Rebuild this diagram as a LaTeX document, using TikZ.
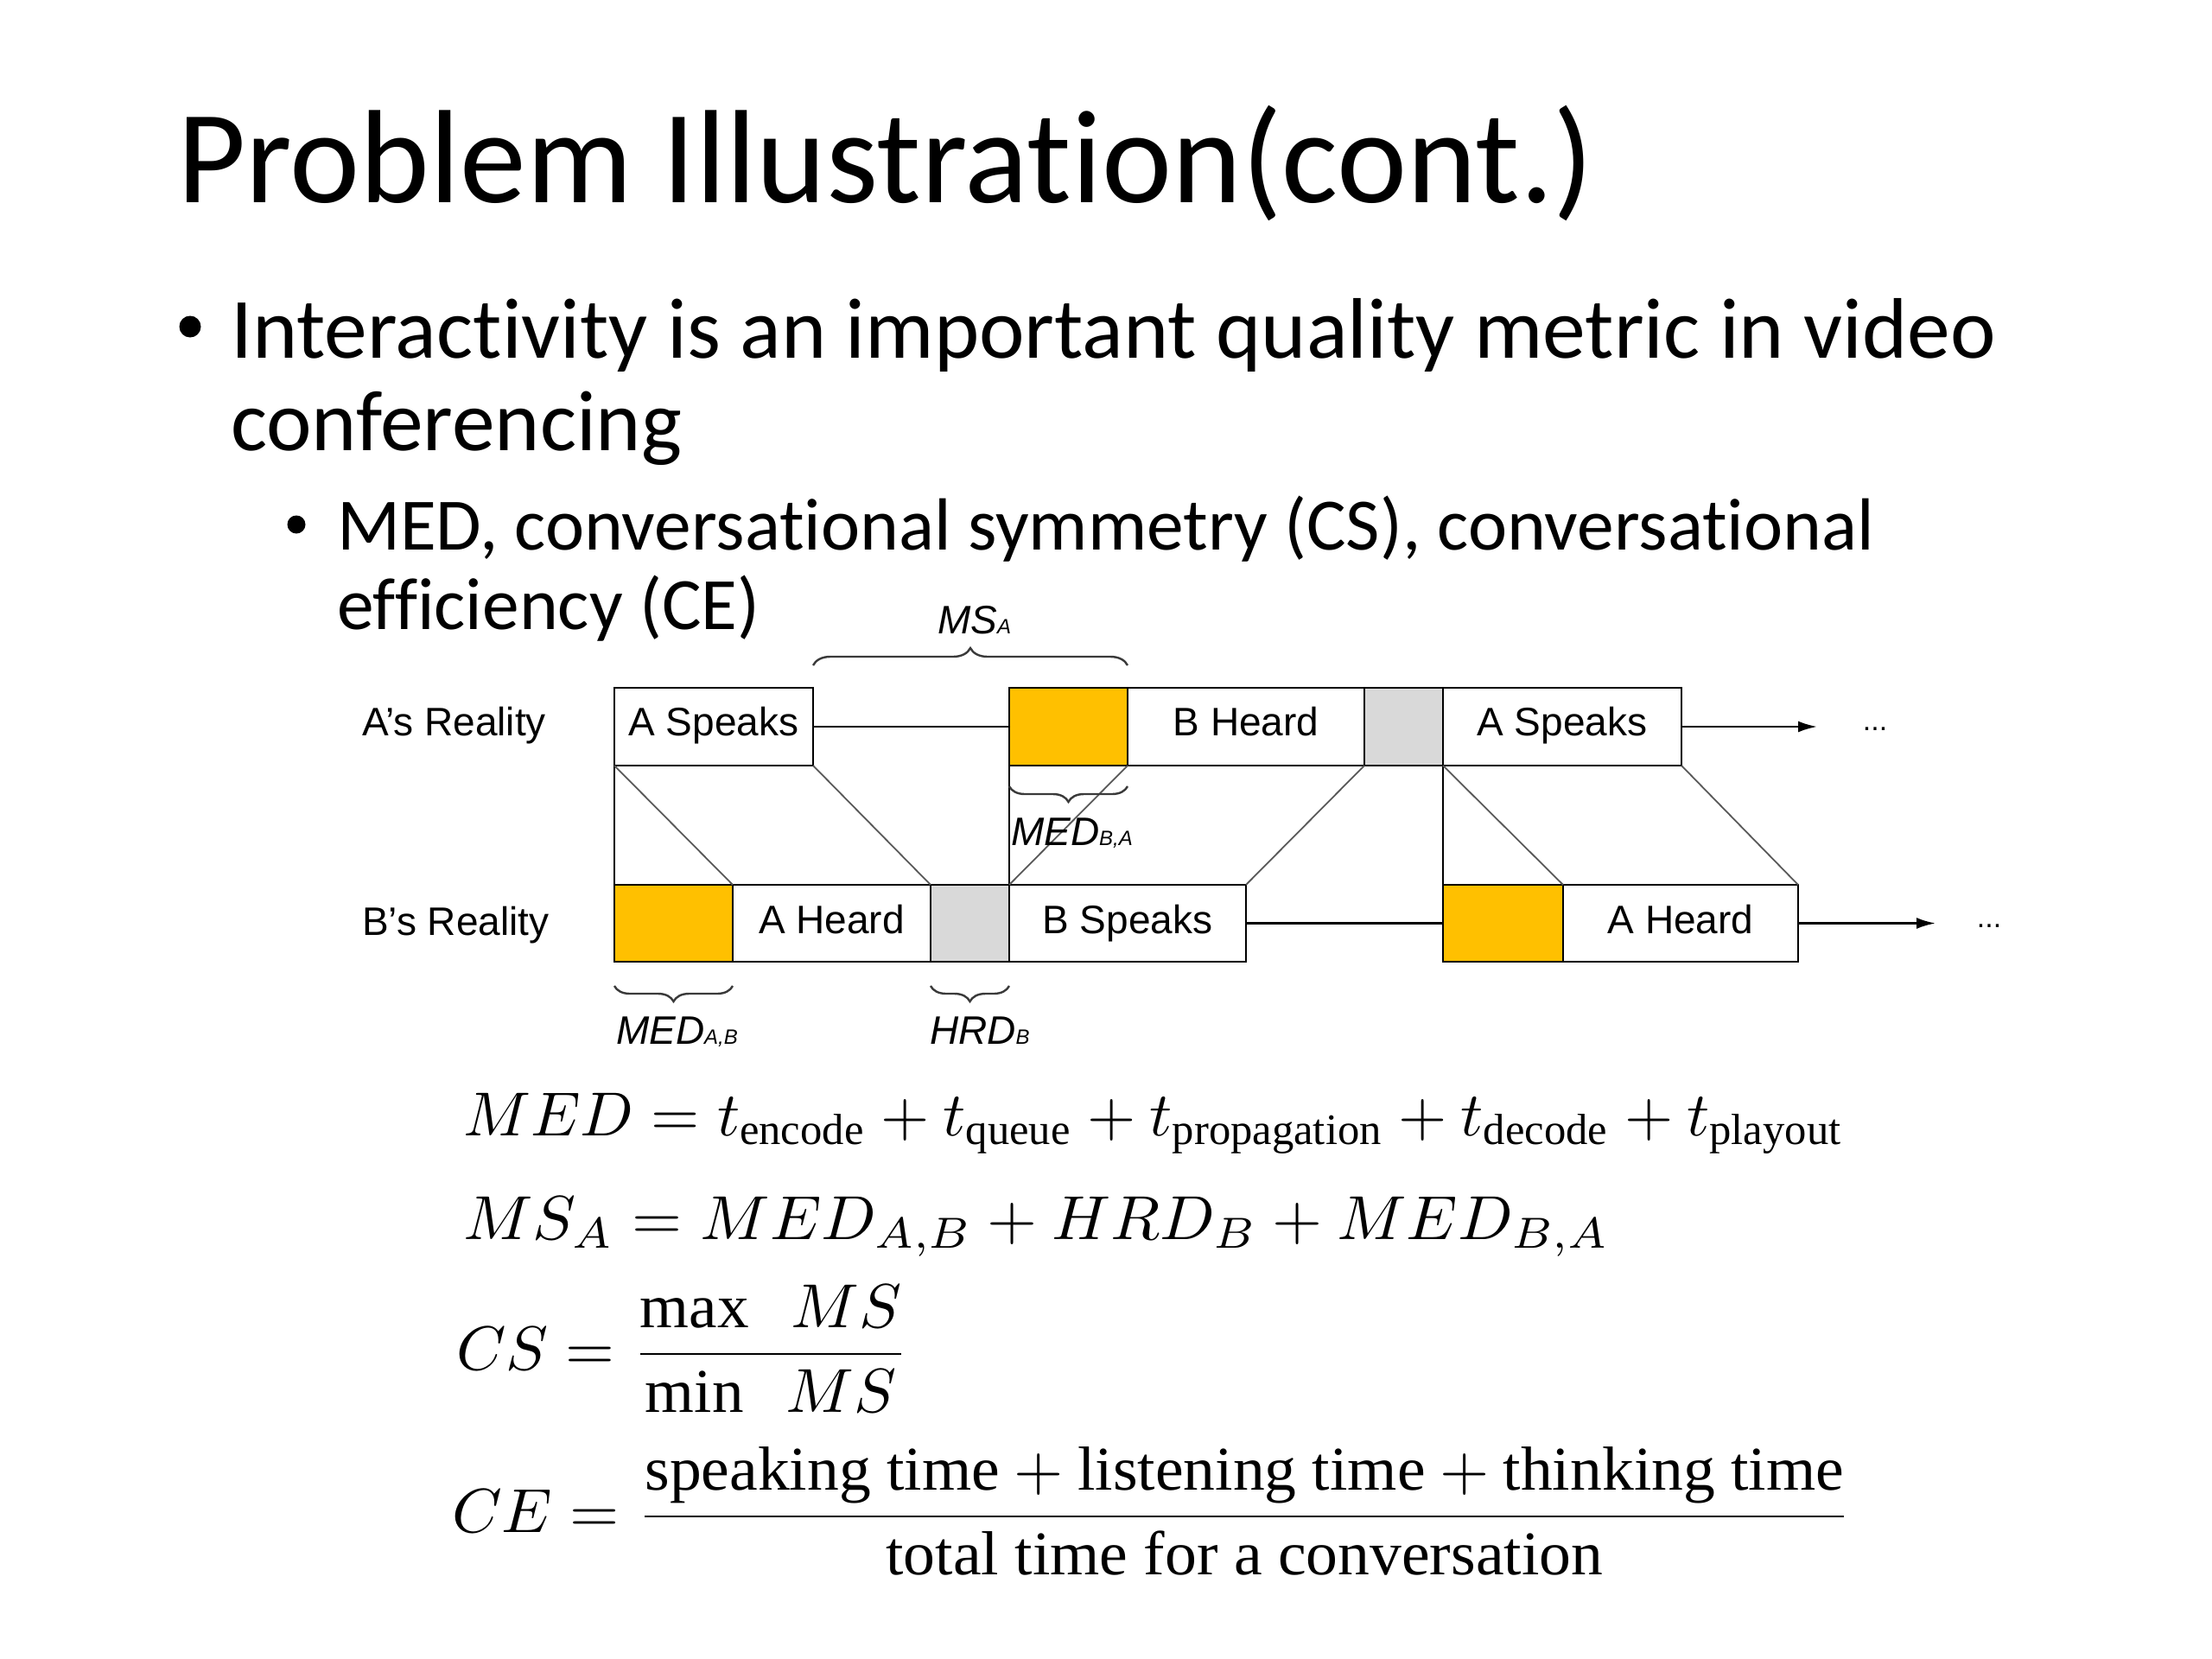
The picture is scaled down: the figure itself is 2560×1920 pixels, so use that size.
\documentclass[tikz,border=0pt]{standalone}
\usepackage{amsmath}
\usepackage{fontspec}
\usepackage{graphicx}
\usetikzlibrary{decorations.pathreplacing,arrows.meta}
\newfontfamily\calibri[Ligatures=CommonOff]{Carlito}
\newfontfamily\helv{Liberation Sans}
\newfontfamily\tms{Liberation Serif}
\definecolor{gold}{HTML}{FFC000}
\definecolor{lgray}{HTML}{D9D9D9}
\definecolor{braceclr}{HTML}{3A3A3A}
\newcommand{\lbl}[2]{{\helv\itshape\fontsize{46}{50}\selectfont #1{\fontsize{24}{26}\selectfont #2}}}
\newcommand{\bigmath}[2]{\resizebox{#1}{\height}{\scalebox{7.2}{#2}}}
\newcommand{\tx}[1]{\text{\tms #1}}
\begin{document}
\begin{tikzpicture}[x=1pt,y=-1pt,
  txt/.style={anchor=base west,inner sep=0pt,outer sep=0pt},
  boxa/.style={draw=black,line width=2.5pt,minimum height=90pt,inner sep=0pt,outer sep=0pt,
    font=\helv\fontsize{46}{50}\selectfont,text height=30pt,text depth=10pt},
  boxb/.style={boxa,minimum height=89pt,text height=32pt,text depth=8pt},
  conn/.style={draw=black,line width=2.5pt},
  vline/.style={draw=black,line width=2pt},
  diag/.style={draw=black!65,line width=1.8pt},
  arr/.style={conn,-{Latex[length=22pt,width=13pt]}},
  bracea/.style={draw=braceclr,line width=2.4pt,decorate,decoration={brace,amplitude=20pt}},
  braceb/.style={draw=braceclr,line width=2.4pt,decorate,decoration={brace,amplitude=18pt}},
  dotsn/.style={anchor=base,inner sep=0pt,font=\helv\fontsize{34}{36}\selectfont},
  reality/.style={txt,font=\helv\fontsize{46}{50}\selectfont},
  eq/.style={txt}]
\useasboundingbox (0,0) rectangle (2560,1920);
\fill[white] (0,0) rectangle (2560,1920);

% ---- title and bullets
\node[txt] (title) at (205,234) {\resizebox{1640pt}{!}{\calibri\fontsize{150}{150}\selectfont Problem Illustration(cont.)}};
\fill (220,378) circle (12.5);
\node[txt] (l1) at (267,414) {\calibri\fontsize{99.5}{119}\selectfont Interactivity is an important quality metric in video};
\node[txt] (l2) at (267,521) {\calibri\fontsize{99.5}{119}\selectfont conferencing};
\fill (343,607) circle (10.5);
\node[txt] (s1) at (390,636) {\calibri\fontsize{85.5}{100}\selectfont MED, conversational symmetry (CS), conversational};
\node[txt] (s2) at (390,728) {\calibri\fontsize{85.5}{100}\selectfont efficiency (CE)};

% ---- row labels
\node[reality] (ra) at (419,851) {A’s Reality};
\node[reality] (rb) at (419,1082) {B’s Reality};

% ---- row A boxes
\node[boxa,minimum width=230pt] (aS1) at (826,841) {A Speaks};
\node[boxa,fill=gold,minimum width=137pt] (aY) at (1236.5,841) {};
\node[boxa,minimum width=274pt] (aBH) at (1442,841) {B Heard};
\node[boxa,fill=lgray,minimum width=91pt] (aG) at (1624.5,841) {};
\node[boxa,minimum width=276pt] (aS2) at (1808,841) {A Speaks};
\coordinate (endA) at (2103,841);
\node[dotsn] (dA) at (2170,845) {...};

% ---- row B boxes
\node[boxb,fill=gold,minimum width=137pt] (bY1) at (779.5,1068.5) {};
\node[boxb,minimum width=229pt] (bAH1) at (962.5,1068.5) {A Heard};
\node[boxb,fill=lgray,minimum width=91pt] (bG) at (1122.5,1068.5) {};
\node[boxb,minimum width=274pt] (bBS) at (1305,1068.5) {B Speaks};
\node[boxb,fill=gold,minimum width=139pt] (bY2) at (1739.5,1068.5) {};
\node[boxb,minimum width=272pt] (bAH2) at (1945,1068.5) {A Heard};
\coordinate (endB) at (2240,1068.5);
\node[dotsn] (dB) at (2302,1073) {...};

% ---- timeline connectors
\draw[conn] (aS1.east) -- (aY.west);
\draw[arr] (aS2.east) -- (endA);
\draw[conn] (bBS.east) -- (bY2.west);
\draw[arr] (bAH2.east) -- (endB);

% ---- vertical guides
\draw[vline] (aS1.south west) -- (bY1.north west);
\draw[vline] (aY.south west) -- (bBS.north west);
\draw[vline] (aS2.south west) -- (bY2.north west);

% ---- propagation diagonals
\draw[diag] (aS1.south west) -- (bAH1.north west);
\draw[diag] (aS1.south east) -- (bAH1.north east);
\draw[diag] (bBS.north west) -- (aY.south east);
\draw[diag] (bBS.north east) -- (aBH.south east);
\draw[diag] (aS2.south west) -- (bAH2.north west);
\draw[diag] (aS2.south east) -- (bAH2.north east);

% ---- braces and labels
\draw[bracea] ([yshift=26pt]aS1.north east) -- ([yshift=26pt]aY.north east);
\node[txt] (msA) at (1085,733) {\lbl{MS}{A}};
\draw[braceb] ([yshift=-24pt]aY.south east) -- ([yshift=-24pt]aY.south west);
\node[txt] (medBA) at (1170,978) {\lbl{MED}{B,A}};
\draw[braceb] ([yshift=-28pt]bY1.south east) -- ([yshift=-28pt]bY1.south west);
\node[txt] (medAB) at (713,1208) {\lbl{MED}{A,B}};
\draw[braceb] ([yshift=-28pt]bG.south east) -- ([yshift=-28pt]bG.south west);
\node[txt] (hrdB) at (1076,1208) {\lbl{HRD}{B}};

% ---- equations
\node[eq] (eq1) at (536,1314) {\bigmath{1598pt}{$MED = t_{\tx{encode}} + t_{\tx{queue}} + t_{\tx{propagation}} + t_{\tx{decode}} + t_{\tx{playout}}$}};
\node[eq] (eq2) at (536,1434) {\bigmath{1327pt}{$MS_A = MED_{A,B} + HRD_B + MED_{B,A}$}};
\node[eq] (eq3) at (528,1585) {\bigmath{524pt}{$\displaystyle CS = \frac{\tx{max}\ \ MS}{\tx{min}\ \ MS}$}};
\node[eq] (eq4) at (523,1773) {\bigmath{1620pt}{$\displaystyle CE = \frac{\tx{speaking time} + \tx{listening time} + \tx{thinking time}}{\tx{total time for a conversation}}$}};
\end{tikzpicture}
\end{document}
